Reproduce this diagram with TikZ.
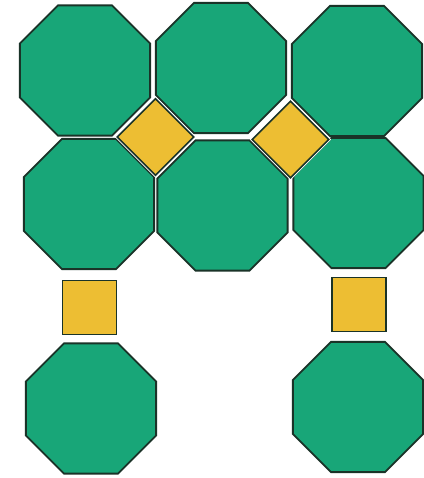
\documentclass[tikz,border=0pt]{standalone}
\usetikzlibrary{shapes.geometric}
\definecolor{tile}{HTML}{18A678}
\definecolor{filler}{HTML}{EDBE33}
\definecolor{rim}{HTML}{1A3328}

\begin{document}
\begin{tikzpicture}[x=1pt, y=-1pt,
  oct/.style={regular polygon, regular polygon sides=8, minimum size=141pt,
    inner sep=0pt, outer sep=0pt, fill=tile, draw=rim, line width=1.8pt},
  sqtile/.style={rectangle, minimum size=54pt, inner sep=0pt, outer sep=0pt,
    fill=filler, draw=rim, line width=1.6pt}]
\useasboundingbox (0,0) rectangle (423,478);
% top row
\node[oct] (octA) at (85,70.5) {};
\node[oct] (octB) at (221,68) {};
\node[oct] (octC) at (357,71) {};
% middle row
\node[oct] (octD) at (89,204) {};
\node[oct] (octE) at (222.5,205.5) {};
\node[oct] (octF) at (358.5,203) {};
% bottom row
\node[oct] (octG) at (91,408.5) {};
\node[oct] (octH) at (358,407) {};
% squares in the gaps
\node[sqtile, rotate=45, draw=white, line width=3.5pt] (diaA) at (155.5,137) {};
\node[sqtile, rotate=45] at (diaA) {};
\node[sqtile, rotate=45, draw=white, line width=3.5pt] (diaB) at (290.5,139.5) {};
\node[sqtile, rotate=45] at (diaB) {};
\node[sqtile] (sqA) at (89.5,307.5) {};
\node[sqtile] (sqB) at (358.7,304.5) {};
\end{tikzpicture}
\end{document}
